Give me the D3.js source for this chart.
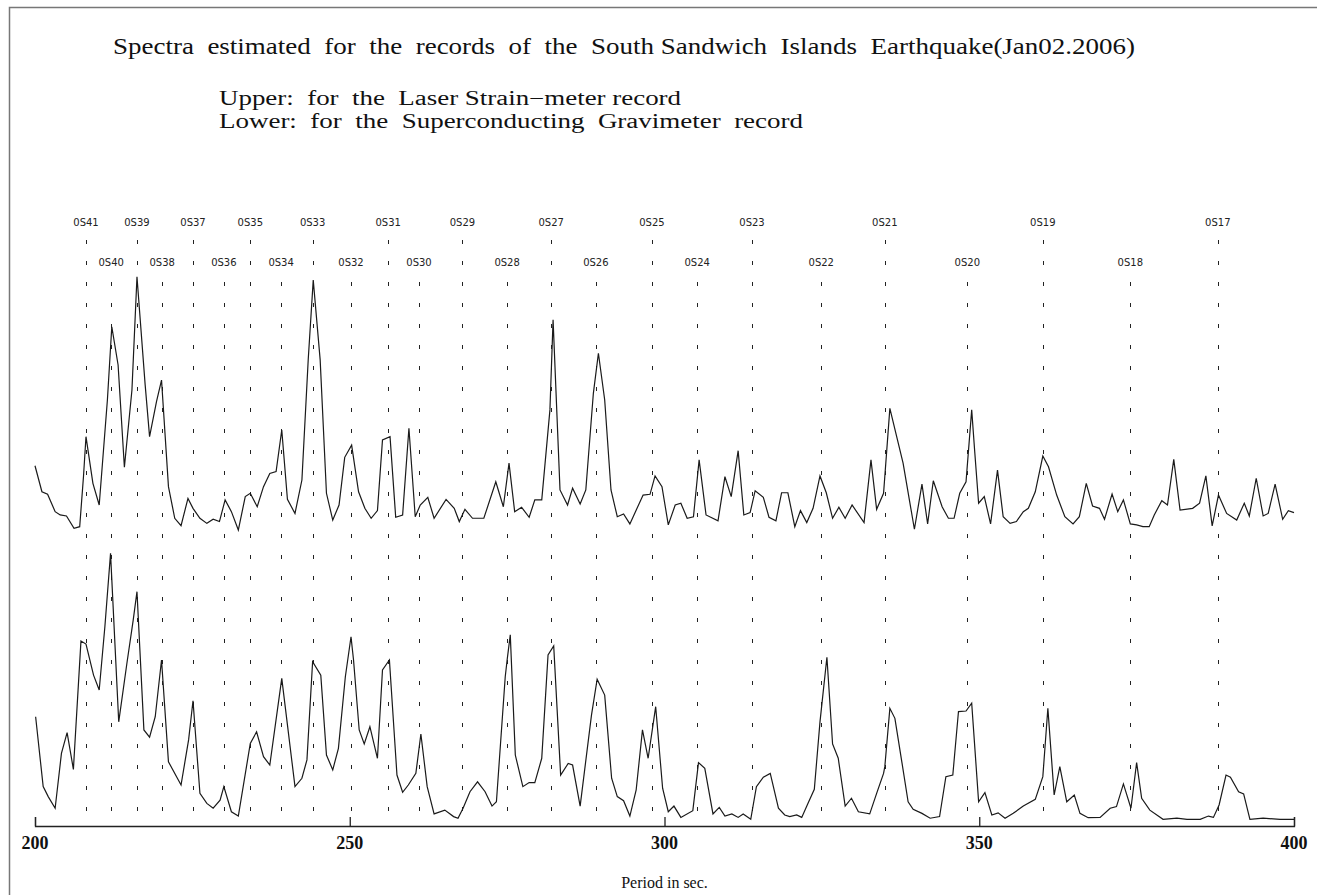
<!DOCTYPE html>
<html>
<head>
<meta charset="utf-8">
<script src="https://cdn.jsdelivr.net/npm/d3@7"></script>
<style>
  body { margin: 0; background: #fff; }
  svg { display: block; }
  .serif { font-family: "Liberation Serif", "Times New Roman", serif; fill: #111; }
  .mode { font-family: "DejaVu Sans", sans-serif; font-size: 10px; fill: #222; }
</style>
</head>
<body>
<svg id="chart" width="1317" height="895"></svg>
<script>
// spheroidal mode periods (sec) and their labels
const modeLabels = ["0S41","0S40","0S39","0S38","0S37","0S36","0S35","0S34","0S33","0S32","0S31","0S30","0S29",
                    "0S28","0S27","0S26","0S25","0S24","0S23","0S22","0S21","0S20","0S19","0S18","0S17"];
const modePeriods = [208.1,212.1,216.2,220.2,225.1,230.0,234.2,239.1,244.1,250.2,256.1,261.0,267.9,
                     275.0,282.0,289.1,298.0,305.2,313.9,324.9,335.0,348.1,360.1,374.0,387.9];

const xTicks = [200, 250, 300, 350, 400];

// upper spectrum: laser strain-meter (relative amplitude)
const upperPeriods = [200.0,201.1,202.0,203.2,204.0,205.0,206.2,207.1,207.7,208.1,209.2,210.2,211.5,212.2,213.2,214.2,
  215.4,216.2,217.5,218.2,219.3,220.1,221.2,222.2,223.2,224.3,225.1,226.2,227.3,228.3,229.3,230.2,231.2,232.3,
  233.4,234.2,235.3,236.3,237.3,238.3,239.2,240.1,241.3,242.4,243.4,244.2,245.3,246.3,247.3,248.3,249.2,250.3,
  251.4,252.4,253.4,254.4,255.2,256.4,257.3,258.4,259.4,260.4,261.2,262.4,263.4,265.3,266.6,267.4,268.3,269.5,
  271.3,273.2,274.4,275.3,276.2,277.3,278.5,279.4,280.5,281.8,282.3,283.4,284.6,285.4,286.6,287.5,288.7,289.5,
  290.5,291.5,292.5,293.5,294.5,296.6,297.7,298.5,299.6,300.6,301.7,302.6,303.6,304.6,305.5,306.6,308.5,309.6,
  310.6,311.7,312.6,313.6,314.4,315.7,316.6,317.7,318.6,319.6,320.7,321.6,322.6,323.6,324.7,325.7,326.7,327.7,
  328.7,329.8,331.7,332.8,333.7,334.8,335.8,337.9,339.7,340.9,341.8,342.7,344.1,345.1,346.0,346.9,347.9,348.8,
  349.3,349.9,350.8,351.8,352.9,353.8,354.9,355.9,357.0,357.8,358.9,360.1,361.0,362.3,363.6,364.9,365.9,367.0,
  368.0,369.1,369.9,371.1,372.0,372.9,374.0,375.0,376.0,377.0,377.8,379.0,379.9,380.9,381.9,383.9,385.0,386.0,
  387.0,388.0,389.3,390.9,392.1,392.9,394.0,395.1,395.9,397.0,398.2,399.1,400.0];
const upperValues = [25.2,15.0,14.0,7.2,5.9,5.5,0.7,1.3,20.9,36.6,18.3,9.8,51.0,79.7,64.7,24.6,
  54.9,99.3,56.9,36.6,50.3,58.8,17.0,4.6,1.7,12.4,8.5,4.6,2.6,4.2,3.3,11.8,7.2,0.0,
  13.1,14.4,9.1,17.0,22.2,22.9,39.2,12.0,6.5,19.6,66.7,98.0,66.7,14.4,3.9,9.8,28.5,33.3,
  15.0,8.5,4.6,7.6,35.3,36.6,5.0,5.9,39.9,5.2,9.8,12.8,4.6,12.0,8.5,3.3,8.1,4.6,
  4.6,18.9,9.1,26.2,7.2,8.9,5.0,11.8,11.8,47.1,82.4,15.7,9.8,16.4,10.2,15.7,53.6,69.3,
  51.0,15.7,5.2,6.3,2.4,13.7,14.0,21.2,17.0,2.0,9.8,10.5,4.6,5.2,27.5,5.9,3.6,20.9,
  13.1,31.1,5.9,6.8,15.4,12.8,5.0,3.6,14.6,14.6,1.3,7.6,2.9,8.5,21.2,14.6,4.6,8.9,
  4.6,9.8,2.9,27.5,8.1,14.4,47.7,26.2,0.3,18.0,2.4,19.3,9.1,4.6,4.6,14.4,18.9,47.1,
  30.1,10.5,13.1,2.4,23.5,5.2,2.6,3.3,7.2,8.5,15.0,29.0,24.8,13.7,5.2,2.4,5.2,18.3,
  9.4,8.5,4.2,14.1,7.2,11.8,2.4,2.0,1.3,1.3,5.9,11.5,9.8,27.7,7.8,8.5,10.5,21.2,
  1.6,13.7,6.5,3.9,10.5,5.5,20.3,5.5,6.5,18.0,4.2,7.6,6.8];

// lower spectrum: superconducting gravimeter (relative amplitude)
const lowerPeriods = [200.1,201.3,202.1,203.2,204.2,205.1,206.1,207.3,208.1,209.3,210.2,211.1,212.0,213.3,214.6,215.6,
  216.2,217.3,218.2,219.1,220.1,221.2,223.2,224.4,225.1,226.2,227.3,228.3,229.4,230.0,231.2,232.3,234.2,235.2,
  236.3,237.3,239.2,241.3,242.4,243.2,244.1,245.4,246.3,247.3,248.2,249.3,250.2,250.6,251.5,252.3,253.2,254.4,
  255.2,256.3,257.5,258.4,259.3,260.5,261.3,262.3,263.4,265.1,266.5,267.2,268.0,269.1,270.3,271.5,272.6,273.3,
  274.7,275.0,275.5,276.3,277.5,278.5,279.4,280.5,281.5,282.4,283.5,284.7,285.4,286.6,288.4,289.3,290.5,291.6,
  292.5,293.5,294.5,295.5,296.5,297.4,298.6,299.7,300.6,301.5,302.6,304.5,305.4,306.4,307.7,308.7,309.6,310.7,
  311.7,312.5,313.7,314.6,315.7,316.8,318.1,319.1,319.9,321.0,321.8,322.8,323.8,324.7,325.8,326.7,327.6,328.7,
  329.7,330.8,332.6,333.7,334.8,335.0,335.8,336.6,337.7,338.7,339.5,340.9,342.2,343.7,344.7,345.8,346.7,347.9,
  348.8,349.9,350.9,352.0,353.0,354.1,355.4,357.0,358.9,360.1,360.9,361.9,362.8,363.9,365.1,366.0,367.3,369.2,
  370.8,371.8,372.9,374.1,375.0,375.8,377.1,379.2,381.4,383.0,385.1,386.4,387.2,388.1,389.2,389.9,391.2,392.0,
  393.0,395.1,397.8,400.0];
const lowerValues = [39.0,13.1,9.4,5.1,25.4,33.1,19.5,67.0,65.9,54.4,48.9,72.3,99.5,37.1,58.8,74.8,
  85.3,34.1,31.4,39.0,60.0,22.3,13.7,30.4,44.9,10.6,6.9,5.1,8.1,13.1,3.8,2.2,29.1,33.4,
  24.2,21.1,53.2,13.1,16.2,23.0,59.4,54.4,24.8,19.3,27.3,53.8,68.6,60.0,34.1,28.9,35.3,23.6,
  56.3,60.0,17.4,11.0,13.7,18.0,32.6,13.1,3.0,4.4,2.0,1.4,5.1,11.2,14.9,11.2,5.9,7.5,
  53.8,60.0,69.3,24.8,13.1,14.6,14.6,23.6,61.9,65.2,17.4,21.7,21.1,5.9,39.6,52.9,47.0,16.2,
  9.4,7.9,2.2,11.9,34.1,23.6,42.7,12.5,3.8,5.9,1.7,4.2,22.0,19.9,3.0,5.4,2.2,3.0,
  1.7,3.0,1.0,13.1,16.6,18.0,5.1,2.6,2.0,2.6,1.7,6.9,12.1,37.1,61.0,28.9,23.6,5.9,
  8.8,3.8,3.0,10.6,18.0,20.5,42.1,38.4,22.3,7.5,4.7,3.2,1.4,2.0,16.8,17.4,40.9,41.1,
  44.0,7.5,10.9,2.6,3.4,1.4,3.2,5.9,8.4,16.8,42.1,10.0,20.5,7.5,10.0,3.2,1.6,1.7,
  5.1,5.7,14.1,5.1,22.0,8.8,4.4,1.0,1.4,1.0,1.0,2.2,1.7,6.3,17.4,16.6,11.2,10.4,
  1.0,1.4,1.0,1.0];

const svg = d3.select("#chart");

const x = d3.scaleLinear().domain([200, 400]).range([35, 1294]);
const yUpper = d3.scaleLinear().domain([0, 100]).range([530, 275]);
const yLower = d3.scaleLinear().domain([0, 100]).range([822, 552]);
const axisY = 826;

// frame
svg.append("rect")
    .attr("x", 9.5).attr("y", 7.5)
    .attr("width", 1330).attr("height", 900)
    .attr("fill", "none")
    .attr("stroke", "#777")
    .attr("stroke-width", 1.5);

// titles (glyphs squeezed/stretched to the reference widths)
const titleLine = (txt, x0, y0, size, len) => svg.append("text")
    .attr("class", "serif")
    .attr("x", x0).attr("y", y0)
    .attr("font-size", size)
    .attr("textLength", len)
    .attr("lengthAdjust", "spacingAndGlyphs")
    .style("white-space", "pre")
    .text(txt);

titleLine("Spectra  estimated  for  the  records  of  the  South Sandwich  Islands  Earthquake(Jan02.2006)", 113, 54, 24, 1022);
titleLine("Upper:  for  the  Laser Strain\u2212meter record", 219, 105, 20, 462);
titleLine("Lower:  for  the  Superconducting  Gravimeter  record", 219, 128, 20, 584);

// mode lines + labels (odd n on top row, even n on second row)
const modes = modeLabels.map((l, i) => ({label: l, period: modePeriods[i], odd: +l.slice(2) % 2 === 1}));

svg.append("g")
    .selectAll("line")
    .data(modes)
    .join("line")
    .attr("x1", d => Math.round(x(d.period)) + 0.5)
    .attr("x2", d => Math.round(x(d.period)) + 0.5)
    .attr("y1", d => d.odd ? 240 : 282)
    .attr("y2", axisY)
    .attr("stroke", "#222")
    .attr("stroke-width", 1)
    .attr("stroke-dasharray", "4,17");

svg.append("g")
    .selectAll("text")
    .data(modes)
    .join("text")
    .attr("class", "mode")
    .attr("x", d => x(d.period))
    .attr("y", d => d.odd ? 226 : 266)
    .attr("text-anchor", "middle")
    .text(d => d.label);

// spectra
const upper = upperPeriods.map((p, i) => [p, upperValues[i]]);
const lower = lowerPeriods.map((p, i) => [p, lowerValues[i]]);

svg.append("path")
    .datum(upper)
    .attr("fill", "none")
    .attr("stroke", "#1a1a1a")
    .attr("stroke-width", 1.2)
    .attr("d", d3.line().x(d => x(d[0])).y(d => yUpper(d[1])));

svg.append("path")
    .datum(lower)
    .attr("fill", "none")
    .attr("stroke", "#1a1a1a")
    .attr("stroke-width", 1.2)
    .attr("d", d3.line().x(d => x(d[0])).y(d => yLower(d[1])));

// x axis: ticks point up into the plot
const axis = svg.append("g")
    .attr("transform", `translate(0,${axisY})`)
    .call(d3.axisTop(x).tickValues(xTicks).tickSize(9).tickFormat(""));
axis.select(".domain").attr("stroke", "#222").attr("stroke-width", 1.3);
axis.selectAll(".tick line").attr("stroke", "#222").attr("stroke-width", 1.3);

svg.append("g")
    .selectAll("text")
    .data(xTicks)
    .join("text")
    .attr("class", "serif")
    .attr("x", d => x(d))
    .attr("y", 849)
    .attr("text-anchor", "middle")
    .attr("font-size", 18)
    .attr("font-weight", "bold")
    .text(d => d);

svg.append("text")
    .attr("class", "serif")
    .attr("x", x(300))
    .attr("y", 888)
    .attr("text-anchor", "middle")
    .attr("font-size", 16)
    .text("Period in sec.");
</script>
</body>
</html>
